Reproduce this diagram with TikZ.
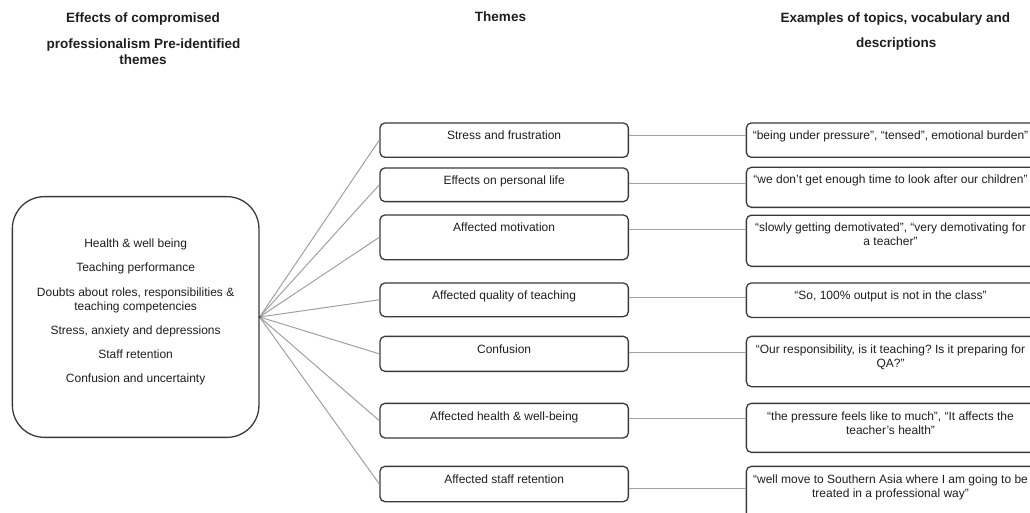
\documentclass[tikz,border=0pt]{standalone}
\usepackage{fontspec}
\setmainfont{Liberation Sans}
\frenchspacing
\definecolor{bord}{HTML}{3A3A3A}
\definecolor{connc}{HTML}{A0A0A0}
\definecolor{ink}{HTML}{1E1E1E}
\tikzset{
  midbox/.style={draw=bord, line width=1.3pt, rounded corners=5pt, minimum width=248.4pt, anchor=north west, inner sep=0pt},
  rightbox/.style={midbox, minimum width=294.3pt},
  txt/.style={font=\fontsize{12}{14}\selectfont, text=ink, inner sep=0pt, anchor=base, align=center},
  hdr/.style={font=\fontsize{13.5}{16}\selectfont\bfseries, text=ink, inner sep=0pt, anchor=base},
  connline/.style={draw=connc, line width=1pt},
}
\begin{document}
\begin{tikzpicture}[x=1pt,y=-1pt]
\useasboundingbox (0,0) rectangle (1030,513);
\clip (0,0) rectangle (1030,513);

% headers
\node[hdr] (h1a) at (143,23) {Effects of compromised};
\node[hdr] (h1b) at (143.5,49) {professionalism Pre-identified};
\node[hdr] (h1c) at (143,65) {themes};
\node[hdr] (h2) at (500.5,22) {Themes};
\node[hdr] (h3a) at (895.3,23) {Examples of topics, vocabulary and};
\node[hdr] (h3b) at (896.3,48) {descriptions};

% left box
\node[draw=bord, line width=1.3pt, rounded corners=32pt, minimum width=246.6pt, minimum height=240.7pt, anchor=north west, inner sep=0pt] (lbox) at (11.7,196) {};
\node[txt] (l1) at ([yshift=-51.6pt]lbox.north) {Health \& well being};
\node[txt] (l2) at ([yshift=-75.3pt]lbox.north) {Teaching performance};
\node[txt] (l3) at ([yshift=-114pt]lbox.north) {Doubts about roles, responsibilities \&\\teaching competencies};
\node[txt] (l4) at ([yshift=-138.3pt]lbox.north) {Stress, anxiety and depressions};
\node[txt] (l5) at ([yshift=-162.3pt]lbox.north) {Staff retention};
\node[txt] (l6) at ([yshift=-186pt]lbox.north) {Confusion and uncertainty};

% middle boxes
\node[midbox, minimum height=34.4pt] (m1) at (379.3,122.3) {};
\node[midbox, minimum height=33.7pt] (m2) at (379.3,167.3) {};
\node[midbox, minimum height=44.7pt] (m3) at (379.3,214.3) {};
\node[midbox, minimum height=33.7pt] (m4) at (379.3,282.3) {};
\node[midbox, minimum height=35pt]   (m5) at (379.3,335.7) {};
\node[midbox, minimum height=34.6pt] (m6) at (379.3,402.7) {};
\node[midbox, minimum height=35.3pt] (m7) at (379.3,465.7) {};

\node[txt] (m1t) at ([yshift=-17.3pt]m1.north) {Stress and frustration};
\node[txt] (m2t) at ([yshift=-17.3pt]m2.north) {Effects on personal life};
\node[txt] (m3t) at ([yshift=-17.3pt]m3.north) {Affected motivation};
\node[txt] (m4t) at ([yshift=-17.3pt]m4.north) {Affected quality of teaching};
\node[txt] (m5t) at ([yshift=-17.3pt]m5.north) {Confusion};
\node[txt] (m6t) at ([yshift=-17.3pt]m6.north) {Affected health \& well-being};
\node[txt] (m7t) at ([yshift=-17.3pt]m7.north) {Affected staff retention};

% right boxes
\node[rightbox, minimum height=34.4pt] (r1) at (745.7,122.3) {};
\node[rightbox, minimum height=40pt]   (r2) at (745.7,166.7) {};
\node[rightbox, minimum height=51.2pt] (r3) at (745.7,214.5) {};
\node[rightbox, minimum height=34.5pt] (r4) at (745.7,282.3) {};
\node[rightbox, minimum height=50.3pt] (r5) at (745.7,335.7) {};
\node[rightbox, minimum height=49pt]   (r6) at (745.7,402.7) {};
\node[rightbox, minimum height=52pt]   (r7) at (745.7,465.7) {};

\node[txt] (r1t) at ([xshift=-3pt,yshift=-17.3pt]r1.north) {“being under pressure”, “tensed”, emotional burden”};
\node[txt] (r2t) at ([xshift=-3pt,yshift=-17.3pt]r2.north) {“we don’t get enough time to look after our children”};
\node[txt] (r3t) at ([xshift=-3pt,yshift=-31.3pt]r3.north) {“slowly getting demotivated”, “very demotivating for\\a teacher”};
\node[txt] (r4t) at ([xshift=-3pt,yshift=-17.3pt]r4.north) {“So, 100\% output is not in the class”};
\node[txt] (r5t) at ([xshift=-3pt,yshift=-31.3pt]r5.north) {“Our responsibility, is it teaching? Is it preparing for\\QA?”};
\node[txt] (r6t) at ([xshift=-3pt,yshift=-31.3pt]r6.north) {“the pressure feels like to much”, “It affects the\\teacher’s health”};
\node[txt] (r7t) at ([xshift=-3pt,yshift=-31.3pt]r7.north) {“well move to Southern Asia where I am going to be\\treated in a professional way”};

% fan connectors
\foreach \i in {1,...,7} {
  \draw[connline] (lbox.east) -- (m\i.west);
}
\fill[bord] (lbox.east) circle (1.2pt);

% middle to right connectors
\draw[connline] ([yshift=4.5pt]m1.east) -- ([yshift=4.5pt]m1.east -| r1.west);
\draw[connline] ([yshift=0.85pt]m2.east) -- ([yshift=0.85pt]m2.east -| r2.west);
\draw[connline] ([yshift=7.65pt]m3.east) -- ([yshift=7.65pt]m3.east -| r3.west);
\draw[connline] ([yshift=1.85pt]m4.east) -- ([yshift=1.85pt]m4.east -| r4.west);
\draw[connline] ([yshift=1.2pt]m5.east) -- ([yshift=1.2pt]m5.east -| r5.west);
\draw[connline] ([yshift=1.7pt]m6.east) -- ([yshift=1.7pt]m6.east -| r6.west);
\draw[connline] ([yshift=-4.35pt]m7.east) -- ([yshift=-4.35pt]m7.east -| r7.west);
\end{tikzpicture}
\end{document}
